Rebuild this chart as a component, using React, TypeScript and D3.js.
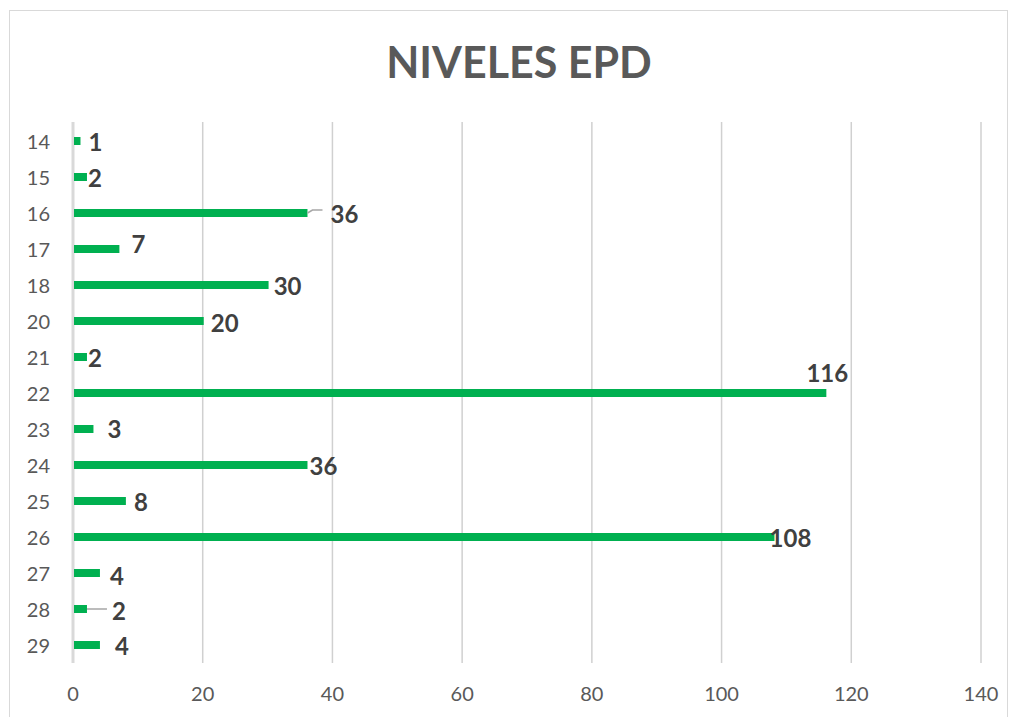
import React, { useEffect, useRef } from "react";
import * as d3 from "d3";

const categories: string[] = ["14", "15", "16", "17", "18", "20", "21", "22", "23", "24", "25", "26", "27", "28", "29"];
const values: number[] = [1, 2, 36, 7, 30, 20, 2, 116, 3, 36, 8, 108, 4, 2, 4];
const xTicks: number[] = [0, 20, 40, 60, 80, 100, 120, 140];
// manual label nudges (px) as in the original, plus which labels have leader lines
const labelDx: number[] = [16, 9, 38, 20, 20, 22, 9, 2, 22, 17, 16, 17, 18, 33, 23];
const labelDy: number[] = [0, 0, 0, -6, 0, 1, 0, -21, -1, 0, 0, 0, 2, 1, 0];
const leaders: boolean[] = [false, false, true, false, false, false, false, false, false, false, false, false, false, true, false];

const W = 1015;
const H = 717;

const App: React.FC = () => {
  const svgRef = useRef<SVGSVGElement>(null);

  useEffect(() => {
    const svg = d3.select(svgRef.current);
    svg.selectAll("*").remove();

    const margin = { top: 123, right: 34, bottom: 54, left: 73 };
    const font = "Lato, 'Open Sans', sans-serif";

    svg
      .append("rect")
      .attr("x", 9.5)
      .attr("y", 10.5)
      .attr("width", 998)
      .attr("height", 720)
      .attr("fill", "#fff")
      .attr("stroke", "#d9d9d9");

    svg
      .append("text")
      .attr("x", 519)
      .attr("y", 61)
      .attr("text-anchor", "middle")
      .attr("dominant-baseline", "central")
      .style("font-family", font)
      .style("font-weight", "bold")
      .style("font-size", "43px")
      .attr("fill", "#595959")
      .text("NIVELES EPD");

    const x = d3
      .scaleLinear()
      .domain([0, 140])
      .range([margin.left, W - margin.right]);

    const y = d3
      .scaleBand<string>()
      .domain(categories)
      .range([margin.top, H - margin.bottom]);

    // gridlines
    svg
      .append("g")
      .selectAll("line")
      .data(xTicks)
      .enter()
      .append("line")
      .attr("x1", (d) => x(d))
      .attr("x2", (d) => x(d))
      .attr("y1", margin.top - 1)
      .attr("y2", H - margin.bottom)
      .attr("stroke", (d) => (d === 0 ? "#d9d9d9" : "#d0d0d0"))
      .attr("stroke-width", (d) => (d === 0 ? 3 : 1.5));

    // x tick labels
    svg
      .append("g")
      .selectAll("text")
      .data(xTicks)
      .enter()
      .append("text")
      .attr("x", (d) => x(d))
      .attr("y", 693)
      .attr("text-anchor", "middle")
      .attr("dominant-baseline", "central")
      .style("font-family", font)
      .style("font-size", "20px")
      .attr("fill", "#595959")
      .text((d) => d);

    // category labels
    svg
      .append("g")
      .selectAll("text")
      .data(categories)
      .enter()
      .append("text")
      .attr("x", 50)
      .attr("y", (d) => (y(d) || 0) + y.bandwidth() / 2)
      .attr("text-anchor", "end")
      .attr("dominant-baseline", "central")
      .style("font-family", font)
      .style("font-size", "20px")
      .attr("fill", "#595959")
      .text((d) => d);

    const barH = 8;
    svg
      .append("g")
      .selectAll("rect")
      .data(values)
      .enter()
      .append("rect")
      .attr("x", x(0) + 1)
      .attr("y", (d, i) => (y(categories[i]) || 0) + y.bandwidth() / 2 - barH / 2)
      .attr("width", (d) => x(d) - x(0))
      .attr("height", barH)
      .attr("fill", "#00b050");

    // leader lines
    values.forEach((v, i) => {
      if (!leaders[i]) return;
      const cy = (y(categories[i]) || 0) + y.bandwidth() / 2;
      const x0 = x(v) + 1;
      const lx = x(v) + labelDx[i] - 22 + (v >= 10 ? 0 : 10);
      svg
        .append("path")
        .attr("d", i === 2 ? `M${x0},${cy} L${x0 + 5},${cy - 3} L${lx},${cy - 3}` : `M${x0},${cy} L${lx},${cy}`)
        .attr("fill", "none")
        .attr("stroke", "#a6a6a6")
        .attr("stroke-width", 1.5);
    });

    // data labels
    svg
      .append("g")
      .selectAll("text")
      .data(values)
      .enter()
      .append("text")
      .attr("x", (d, i) => x(d) + labelDx[i])
      .attr("y", (d, i) => (y(categories[i]) || 0) + y.bandwidth() / 2 + labelDy[i])
      .attr("text-anchor", "middle")
      .attr("dominant-baseline", "central")
      .style("font-family", font)
      .style("font-weight", "bold")
      .style("font-size", "24px")
      .attr("fill", "#404040")
      .text((d) => d);
  }, []);

  return (
    <svg
      ref={svgRef}
      width={W}
      height={H}
      style={{ position: "absolute", left: 0, top: 0, background: "#fff" }}
    ></svg>
  );
};

export default App;
